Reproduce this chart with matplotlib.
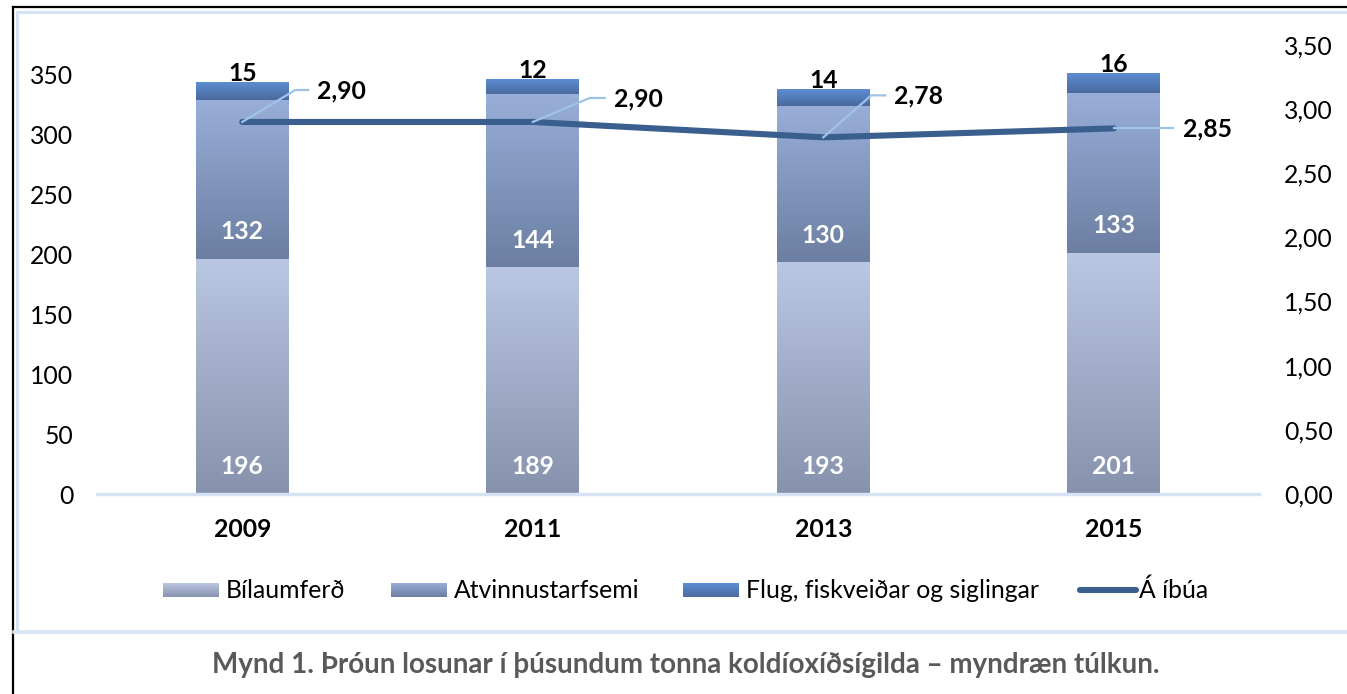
import numpy as np
import matplotlib
matplotlib.use('Agg')
import matplotlib.pyplot as plt
import matplotlib.colors as mcolors

plt.rcParams['font.family'] = ['Lato', 'DejaVu Sans']

# ---------------- data ----------------
years = ['2009', '2011', '2013', '2015']
bilaumferd = [196, 189, 193, 201]
atvinnustarfsemi = [132, 144, 130, 133]
flug = [15, 12, 14, 16]
a_ibua = [2.90, 2.90, 2.78, 2.85]
series_names = ['Bílaumferð', 'Atvinnustarfsemi', 'Flug, fiskveiðar og siglingar', 'Á íbúa']
left_ticks = [0, 50, 100, 150, 200, 250, 300, 350]
right_ticks = [0.0, 0.5, 1.0, 1.5, 2.0, 2.5, 3.0, 3.5]
caption = 'Mynd 1. Þróun losunar í þúsundum tonna koldíoxíðsígilda – myndræn túlkun.'

# ---------------- style ----------------
grad_colors = [('#bac7e2', '#8792ad'),   # Bílaumferð
               ('#98aed8', '#6c7fa2'),   # Atvinnustarfsemi
               ('#5c8dd2', '#4a6a9e')]   # Flug
line_color = '#3a5f8f'
leader_color = '#9fc3e7'
axis_color = '#d5e3f4'
FS = 17.8

def comma(v, d=2):
    return f'{v:.{d}f}'.replace('.', ',')

def grad(top, bottom, n=80):
    t = np.linspace(0, 1, n)[:, None]
    c0 = np.array(mcolors.to_rgb(top))
    c1 = np.array(mcolors.to_rgb(bottom))
    return (c0 * (1 - t) + c1 * t)[:, None, :]

W, H = 1347, 694
fig = plt.figure(figsize=(W / 100, H / 100), dpi=100)
fig.patch.set_facecolor('white')

# decoration layer (pixel coordinates)
deco = fig.add_axes([0, 0, 1, 1], zorder=0)
deco.set_xlim(0, W)
deco.set_ylim(H, 0)
deco.axis('off')

ax = fig.add_axes([97 / W, 1 - 494 / H, (1259 - 97) / W, (494 - 45) / H], zorder=1)
ax.patch.set_alpha(0)
ax2 = ax.twinx()

x = np.arange(len(years))
bw = 0.32
stacks = [bilaumferd, atvinnustarfsemi, flug]
bottom = np.zeros(len(years))
containers = []
for vals, (ct, cb) in zip(stacks, grad_colors):
    bc = ax.bar(x, vals, bw, bottom=bottom, color='none', edgecolor='none', zorder=2)
    for r in bc:
        x0, y0 = r.get_xy()
        ax.imshow(grad(ct, cb), extent=[x0, x0 + r.get_width(), y0, y0 + r.get_height()],
                  aspect='auto', zorder=2, interpolation='bilinear')
    containers.append(bc)
    bottom = bottom + np.array(vals)

ax.set_xlim(-0.5, len(years) - 0.5)
ax.set_ylim(0, 449 / 1.2)
ax2.set_ylim(0, 3.5)

# inside-base labels
for bc, vals in zip(containers[:2], stacks[:2]):
    for r, v in zip(bc, vals):
        ax.annotate(str(v), (r.get_x() + r.get_width() / 2, r.get_y()),
                    xytext=(0, 19.5), textcoords='offset points', ha='center', va='center',
                    color='white', fontsize=FS, fontweight='bold', zorder=5)
# top labels
for r, v in zip(containers[2], flug):
    ax.annotate(str(v), (r.get_x() + r.get_width() / 2, r.get_y() + r.get_height()),
                xytext=(0, 6.5), textcoords='offset points', ha='center', va='center',
                color='black', fontsize=FS, fontweight='bold', zorder=5)

# per-capita line
ax2.plot(x, a_ibua, color=line_color, lw=4.4, solid_capstyle='round', solid_joinstyle='round', zorder=3)

# leader lines + labels (pixel offsets: elbow dx, dy, end dx, text dx)
offsets = [(53, 32, 66, 75), (57, 24, 72, 81), (48, 42, 62, 71), (59, 0, 59, 69)]
for xi, v, (ex, ey, hx, tx) in zip(x, a_ibua, offsets):
    px, py = ax2.transData.transform((xi, v))
    pts = np.array([[px, py], [px + ex, py + ey], [px + hx, py + ey]])
    dpts = ax2.transData.inverted().transform(pts)
    ax2.plot(dpts[:, 0], dpts[:, 1], color=leader_color, lw=1.6, zorder=4)
    ax2.annotate(comma(v), (xi, v), xytext=(tx * 0.72, (ey - 1) * 0.72), textcoords='offset points',
                 ha='left', va='center', fontsize=FS, fontweight='bold', color='black', zorder=5)

# axes styling
for a in (ax, ax2):
    for s in a.spines.values():
        s.set_visible(False)
ax.spines['bottom'].set_visible(True)
ax.spines['bottom'].set_color(axis_color)
ax.spines['bottom'].set_linewidth(2.4)

ax.set_xticks(x)
ax.set_xticklabels(years, fontweight='bold', fontsize=FS)
ax.set_yticks(left_ticks)
ax.set_yticklabels([str(t) for t in left_ticks], fontsize=FS)
ax2.set_yticks(right_ticks)
ax2.set_yticklabels([comma(t) for t in right_ticks], fontsize=FS)
ax.tick_params(axis='y', length=0, pad=17)
ax.tick_params(axis='x', length=0, pad=17)
ax2.tick_params(axis='y', length=0, pad=18)

# borders
deco.plot([13, W], [7, 7], color='black', lw=1.6)
deco.plot([13, 13], [7, H], color='black', lw=1.6)
deco.plot([16.5, W], [11.5, 11.5], color=axis_color, lw=2.2)
deco.plot([16.5, 16.5], [11.5, 632], color=axis_color, lw=2.2)
deco.plot([14, W], [632, 632], color=axis_color, lw=2.6)

# legend
leg_x = [163, 391, 683, 1077]
for i, name in enumerate(series_names):
    lx = leg_x[i]
    if i < 3:
        ct, cb = grad_colors[i]
        deco.imshow(grad(ct, cb), extent=[lx, lx + 56, 597, 583], aspect='auto',
                    interpolation='bilinear', zorder=2)
        tx = lx + 63
    else:
        deco.plot([lx + 3, lx + 59], [590, 590], color=line_color, lw=4.4, solid_capstyle='round')
        tx = lx + 62
    deco.text(tx, 590, name, ha='left', va='center', fontsize=FS, color='black')
deco.set_xlim(0, W)
deco.set_ylim(H, 0)

# caption
deco.text(686, 665, caption, ha='center', va='center', fontsize=20, fontweight='bold', color='#595959')

fig.savefig('out.png', dpi=100)
